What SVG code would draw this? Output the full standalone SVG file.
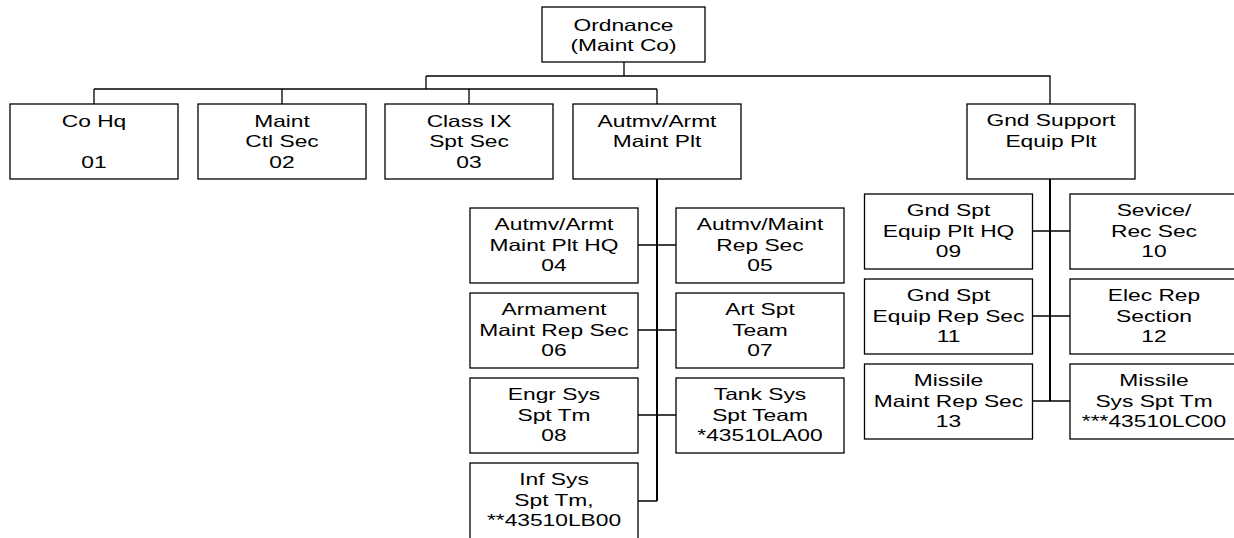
<svg xmlns="http://www.w3.org/2000/svg" width="1234" height="538" viewBox="0 0 1234 538">
<style>
rect{fill:#fff;stroke:#000;stroke-width:1.3}
text{font-family:"Liberation Sans",Arial,sans-serif;font-size:16.5px;fill:#000;text-anchor:middle}
.c{stroke:#000;stroke-width:1.3;fill:none}
.v{stroke:#000;stroke-width:2;fill:none}
</style>
<rect x="0" y="0" width="1234" height="538" style="fill:#fff;stroke:none"/>
<g id="connectors">
<path class="c" d="M624,62V76M426,76H1050V104M426,76V89M94,89H657M94,89V104M282,89V104M469,89V104M657,89V104"/>
<path class="v" d="M657,179V501"/>
<path class="c" d="M638,245H676M638,330H676M638,415H676M638,501H657"/>
<path class="v" d="M1050,179V401"/>
<path class="c" d="M1033,231H1070M1033,316H1070M1033,401H1070"/>
</g>
<g id="n-ordnance"><rect x="542" y="7" width="163" height="55"/><g transform="matrix(1.38 0 0 1 623.5 0)"><text x="0" y="31">Ordnance</text><text x="0" y="51">(Maint Co)</text></g></g>
<g id="n01"><rect x="10" y="104" width="168" height="75"/><g transform="matrix(1.38 0 0 1 94 0)"><text x="0" y="127">Co Hq</text><text x="0" y="168">01</text></g></g>
<g id="n02"><rect x="198" y="104" width="168" height="75"/><g transform="matrix(1.38 0 0 1 282 0)"><text x="0" y="127">Maint</text><text x="0" y="147.5">Ctl Sec</text><text x="0" y="168">02</text></g></g>
<g id="n03"><rect x="385" y="104" width="168" height="75"/><g transform="matrix(1.38 0 0 1 469 0)"><text x="0" y="127">Class IX</text><text x="0" y="147.5">Spt Sec</text><text x="0" y="168">03</text></g></g>
<g id="n-autmv"><rect x="573" y="104" width="168" height="75"/><g transform="matrix(1.38 0 0 1 657 0)"><text x="0" y="127">Autmv/Armt</text><text x="0" y="147">Maint Plt</text></g></g>
<g id="n-gnd"><rect x="967" y="104" width="168" height="75"/><g transform="matrix(1.38 0 0 1 1051 0)"><text x="0" y="126.5">Gnd Support</text><text x="0" y="147">Equip Plt</text></g></g>
<g id="n04"><rect x="470" y="208" width="168" height="75"/><g transform="matrix(1.38 0 0 1 554 0)"><text x="0" y="230.5">Autmv/Armt</text><text x="0" y="251">Maint Plt HQ</text><text x="0" y="271.5">04</text></g></g>
<g id="n05"><rect x="676" y="208" width="168" height="75"/><g transform="matrix(1.38 0 0 1 760 0)"><text x="0" y="230.5">Autmv/Maint</text><text x="0" y="251">Rep Sec</text><text x="0" y="271.5">05</text></g></g>
<g id="n06"><rect x="470" y="293" width="168" height="75"/><g transform="matrix(1.38 0 0 1 554 0)"><text x="0" y="315.5">Armament</text><text x="0" y="336">Maint Rep Sec</text><text x="0" y="356.5">06</text></g></g>
<g id="n07"><rect x="676" y="293" width="168" height="75"/><g transform="matrix(1.38 0 0 1 760 0)"><text x="0" y="315.5">Art Spt</text><text x="0" y="336">Team</text><text x="0" y="356.5">07</text></g></g>
<g id="n08"><rect x="470" y="378" width="168" height="75"/><g transform="matrix(1.38 0 0 1 554 0)"><text x="0" y="400.5">Engr Sys</text><text x="0" y="421">Spt Tm</text><text x="0" y="441.5">08</text></g></g>
<g id="n-tank"><rect x="676" y="378" width="168" height="75"/><g transform="matrix(1.38 0 0 1 760 0)"><text x="0" y="400.5">Tank Sys</text><text x="0" y="421">Spt Team</text><text x="0" y="441.5">*43510LA00</text></g></g>
<g id="n-inf"><rect x="470" y="463" width="168" height="77"/><g transform="matrix(1.38 0 0 1 554 0)"><text x="0" y="485.5">Inf Sys</text><text x="0" y="506">Spt Tm,</text><text x="0" y="526.5">**43510LB00</text></g></g>
<g id="n09"><rect x="864.5" y="194" width="168" height="75"/><g transform="matrix(1.38 0 0 1 948.5 0)"><text x="0" y="216.5">Gnd Spt</text><text x="0" y="237">Equip Plt HQ</text><text x="0" y="257.5">09</text></g></g>
<g id="n10"><rect x="1070" y="194" width="168" height="75"/><g transform="matrix(1.38 0 0 1 1154 0)"><text x="0" y="216.5">Sevice/</text><text x="0" y="237">Rec Sec</text><text x="0" y="257.5">10</text></g></g>
<g id="n11"><rect x="864.5" y="279" width="168" height="75"/><g transform="matrix(1.38 0 0 1 948.5 0)"><text x="0" y="301.5">Gnd Spt</text><text x="0" y="322">Equip Rep Sec</text><text x="0" y="342.5">11</text></g></g>
<g id="n12"><rect x="1070" y="279" width="168" height="75"/><g transform="matrix(1.38 0 0 1 1154 0)"><text x="0" y="301.5">Elec Rep</text><text x="0" y="322">Section</text><text x="0" y="342.5">12</text></g></g>
<g id="n13"><rect x="864.5" y="364" width="168" height="75"/><g transform="matrix(1.38 0 0 1 948.5 0)"><text x="0" y="386.5">Missile</text><text x="0" y="407">Maint Rep Sec</text><text x="0" y="427.5">13</text></g></g>
<g id="n-missile"><rect x="1070" y="364" width="168" height="75"/><g transform="matrix(1.38 0 0 1 1154 0)"><text x="0" y="386.5">Missile</text><text x="0" y="407">Sys Spt Tm</text><text x="0" y="427.5">***43510LC00</text></g></g>
</svg>
